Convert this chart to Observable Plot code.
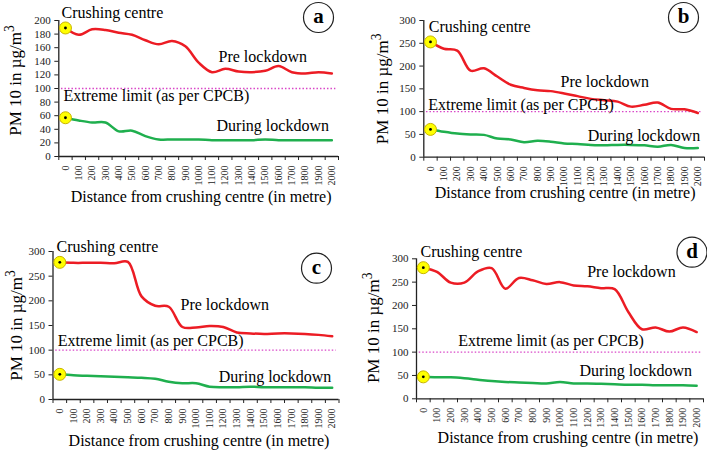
<!DOCTYPE html>
<html><head><meta charset="utf-8">
<script src="https://cdn.jsdelivr.net/npm/d3@7"></script>
<script src="https://cdn.jsdelivr.net/npm/@observablehq/plot@0.6"></script>
<style>
body{margin:0;background:#fff;}
#root{position:relative;width:707px;height:450px;overflow:hidden;background:#fff;}
#root > svg{position:absolute;overflow:visible;}
#root svg, #root svg text, #root svg tspan{font-family:"Liberation Serif","Times New Roman",serif !important;}
</style></head><body><div id="root"></div>
<script>
// Distance categories (m)
const distances = [0,100,200,300,400,500,600,700,800,900,1000,1100,1200,1300,1400,1500,1600,1700,1800,1900,2000];
// Panel a
const preA = [189,179,187,186,182,179,171,165,170,162,138,124,129,125,124,126,133,124,122,124,122];
const durA = [57,53,50,50,37,38,30,25,25,25,25,24,24,24,24,25,24,24,24,24,24];
// Panel b
const preB = [253,238,234,190,195,177,159,152,147,145,140,134,128,125,122,111,115,120,106,105,97];
const durB = [61,56,52,50,49,41,39,33,36,34,30,29,27,26,27,27,26,23,27,20,20];
// Panel c
const preC = [278,277,277,277,276,279,209,190,188,147,146,149,147,136,134,133,134,134,133,131,128];
const durC = [51,49,48,47,46,45,44,42,36,33,33,26,25,25,26,25,25,25,25,24,24];
// Panel d
const preD = [281,272,249,249,273,280,236,259,254,246,250,243,241,237,235,186,149,153,144,153,143];
const durD = [47,46,46,44,41,38,36,35,34,33,36,33,33,32,31,30,30,29,29,29,28];
// Extreme limit (CPCB)
const limit = [100];
const ticks200 = [0,20,40,60,80,100,120,140,160,180,200];
const ticks300 = [0,50,100,150,200,250,300];
const labelsText = {crush: "Crushing centre", pre: "Pre lockdown", limit: "Extreme limit (as per CPCB)", dur: "During lockdown",
  xTitle: "Distance from crushing centre (in metre)", yTitle: "PM 10 in µg/m"};

const W = 353, H = 225;
const FONT = "Liberation Serif";
const boundaries = distances.map(d => d - 50).concat([2050]);

const panels = [
  {letter:"a", pre:preA, dur:durA, yMax:200, yTicks:ticks200, left:0, top:0, mL:58.3, mR:15, mT:20, mB:69,
   letterOff:[-20,-3], yT:[-43.3,-8], xT:[2.5,40],
   crush:[2.7,-7.8], preL:[159.7,35.9], lim:[4.7,75], durL:[157.7,105.6]},
  {letter:"b", pre:preB, dur:durB, yMax:300, yTicks:ticks300, left:354, top:0, mL:69.3, mR:3, mT:20, mB:68.3,
   letterOff:[-21,-3], yT:[-41.3,0], xT:[1,36],
   crush:[5,6.6], preL:[136.7,61], lim:[4.4,84.2], durL:[164,115.6]},
  {letter:"c", pre:preC, dur:durC, yMax:300, yTicks:ticks300, left:0, top:225, mL:52.5, mR:14.5, mT:26, mB:51,
   letterOff:[-22.5,16.7], yT:[-36.5,0], xT:[3,41],
   crush:[3.5,-4.4], preL:[127.5,53.2], lim:[4.8,89.6], durL:[165.8,125.6]},
  {letter:"d", pre:preD, dur:durD, yMax:300, yTicks:ticks300, left:354, top:225, mL:62, mR:4, mT:33.3, mB:51.7,
   letterOff:[-11.5,-6.6], yT:[-43,-1], xT:[8,39],
   crush:[4,-6.7], preL:[170.7,13.3], lim:[41.7,82.3], durL:[163,112.3]}
];

function label(txt, off) {
  return Plot.text([txt], {text: d => d, frameAnchor: "top-left", textAnchor: "start", lineAnchor: "middle",
    dx: off[0], dy: off[1], fontSize: 16, fontFamily: FONT, fill: "black"});
}

const root = document.getElementById("root");
for (const p of panels) {
  const rows = distances.map((d, i) => ({d, pre: p.pre[i], dur: p.dur[i]}));
  const starts = [{d: distances[0], v: p.pre[0]}, {d: distances[0], v: p.dur[0]}];
  const svg = Plot.plot({
    width: W, height: H,
    marginLeft: p.mL, marginRight: p.mR, marginTop: p.mT, marginBottom: p.mB,
    style: {fontFamily: FONT, background: "transparent", overflow: "visible"},
    x: {type: "linear", domain: [-50, 2050]},
    y: {domain: [0, p.yMax]},
    marks: [
      Plot.ruleY(limit, {x1: -30, x2: 2030, stroke: "#d946c8", strokeWidth: 1.3, strokeDasharray: "1.5,2"}),
      Plot.axisY({ticks: p.yTicks, tickFormat: d => String(d), tickSize: 4, tickPadding: 4, fontSize: 11, fontFamily: FONT, label: null, fill: "#222", stroke: "#222"}),
      Plot.axisX({ticks: distances, tickFormat: d => String(d), tickSize: 0, tickPadding: 9, tickRotate: -90, fontSize: 10, fontFamily: FONT, label: null, fill: "#222"}),
      Plot.axisX({ticks: boundaries, tickSize: 4, tickFormat: () => "", label: null, stroke: "#222"}),
      Plot.ruleX([-50], {stroke: "#222", strokeWidth: 1.3}),
      Plot.ruleY([0], {stroke: "#222", strokeWidth: 1.3}),
      Plot.line(rows, {x: "d", y: "pre", stroke: "#ec1c24", strokeWidth: 2.5, curve: "catmull-rom"}),
      Plot.line(rows, {x: "d", y: "dur", stroke: "#1faf4e", strokeWidth: 2.5, curve: "catmull-rom"}),
      Plot.dot(starts, {x: "d", y: "v", r: 6, fill: "#ffff00", stroke: "#c8b400", strokeWidth: 1}),
      Plot.dot(starts, {x: "d", y: "v", r: 1.4, fill: "black"}),
      Plot.dot([p.letter], {frameAnchor: "top-right", dx: p.letterOff[0], dy: p.letterOff[1], r: 15, fill: "white", stroke: "#222", strokeWidth: 1.2}),
      Plot.text([p.letter], {text: d => d, frameAnchor: "top-right", textAnchor: "middle", lineAnchor: "middle", dx: p.letterOff[0], dy: p.letterOff[1] - 1, fontSize: 21, fontWeight: "bold", fontFamily: FONT, fill: "black"}),
      label(labelsText.crush, p.crush),
      label(labelsText.pre, p.preL),
      label(labelsText.limit, p.lim),
      label(labelsText.dur, p.durL),
      Plot.text([labelsText.xTitle], {text: d => d, frameAnchor: "bottom", textAnchor: "middle", lineAnchor: "middle", dx: p.xT[0], dy: p.xT[1], fontSize: 16, fontFamily: FONT, fill: "black"}),
      Plot.text([labelsText.yTitle], {text: d => d, frameAnchor: "left", textAnchor: "middle", lineAnchor: "middle", rotate: -90, dx: p.yT[0], dy: p.yT[1], fontSize: 17, fontFamily: FONT, fill: "black"})
    ]
  });
  svg.style.left = p.left + "px";
  svg.style.top = p.top + "px";
  d3.select(svg).selectAll("text").filter(function() { return this.textContent === labelsText.yTitle; })
    .append("tspan").attr("dy", "-0.5em").attr("font-size", "0.8em").text("3");
  root.appendChild(svg);
}
</script></body></html>
